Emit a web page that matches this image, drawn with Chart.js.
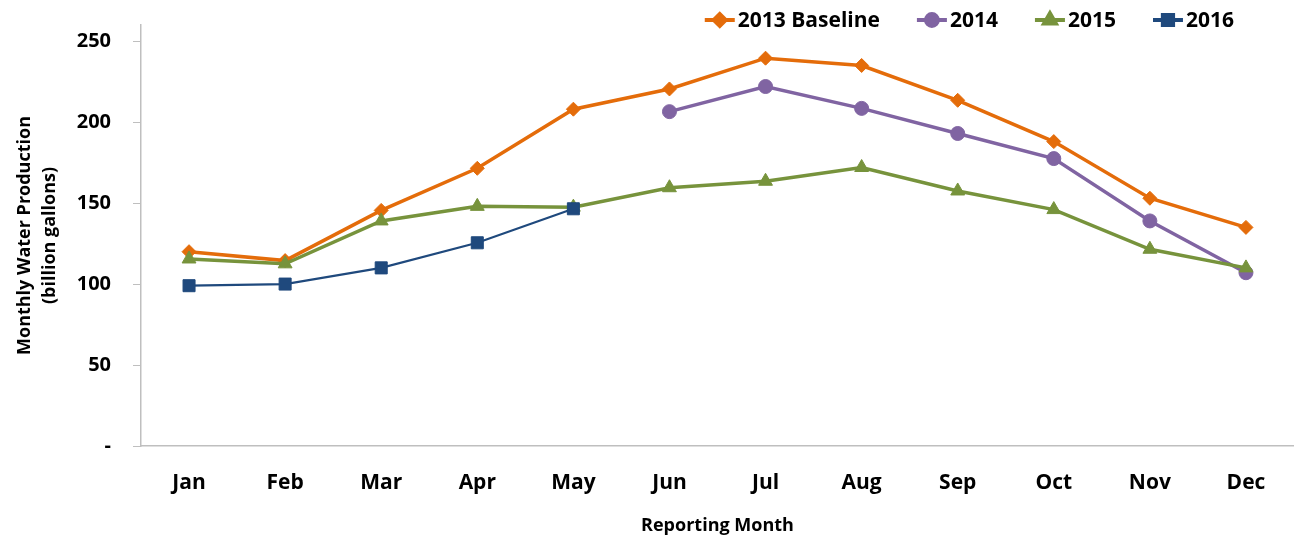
<!DOCTYPE html>
<html>
<head>
<meta charset="utf-8">
<script src="https://cdn.jsdelivr.net/npm/chart.js@4/dist/chart.umd.min.js"></script>
<style>
  html, body { margin: 0; padding: 0; background: #fff; overflow: hidden; }
  canvas { display: block; }
</style>
</head>
<body>
<canvas id="waterChart" width="1294" height="535"></canvas>
<script>
const months = ["Jan", "Feb", "Mar", "Apr", "May", "Jun", "Jul", "Aug", "Sep", "Oct", "Nov", "Dec"];
const baseline2013 = [120, 114.5, 145.5, 171.5, 208, 220.5, 239.5, 235, 213.5, 188, 153, 135];
const prod2014 = [null, null, null, null, null, 206.5, 222, 208.5, 193, 177.5, 139, 107];
const prod2015 = [115.5, 112.5, 139, 148, 147.5, 159.5, 163.5, 172, 157.5, 146, 121.5, 110];
const prod2016 = [99, 100, 110, 125.5, 146.5, null, null, null, null, null, null, null];
const yTicks = [0, 50, 100, 150, 200, 250];

const FONT = "'Open Sans', sans-serif";

const series = [
  { label: "2013 Baseline", data: baseline2013, color: "#E46C0A", style: "rectRot", radius: 7, width: 3.5 },
  { label: "2014", data: prod2014, color: "#8064A2", style: "circle", radius: 7, width: 3.5 },
  { label: "2015", data: prod2015, color: "#77933C", style: "triangle", radius: 8, width: 3.5 },
  { label: "2016", data: prod2016, color: "#1F497D", style: "rect", radius: 8.5, width: 2.2 }
];

// legend drawn by hand so it can sit up in the corner like the original
const cornerLegend = {
  id: "cornerLegend",
  afterDraw(chart) {
    const ctx = chart.ctx;
    ctx.save();
    ctx.font = "bold 21px " + FONT;
    ctx.textBaseline = "middle";
    const y = 20, lineLen = 30, gap = 3, itemGap = 37;
    let widths = series.map(s => lineLen + gap + ctx.measureText(s.label).width);
    let total = widths.reduce((a, b) => a + b, 0) + itemGap * (series.length - 1);
    let x = 1234 - total;
    series.forEach((s, i) => {
      ctx.strokeStyle = s.color;
      ctx.lineWidth = 4;
      ctx.beginPath();
      ctx.moveTo(x, y);
      ctx.lineTo(x + lineLen, y);
      ctx.stroke();
      ctx.fillStyle = s.color;
      Chart.helpers.drawPoint(ctx, { pointStyle: s.style, radius: s.radius * 0.85, rotation: 0, borderWidth: 1 }, x + lineLen / 2, y);
      ctx.fillStyle = "#000";
      ctx.fillText(s.label, x + lineLen + gap, y + 1);
      x += widths[i] + itemGap;
    });
    ctx.restore();
  }
};

new Chart(document.getElementById("waterChart"), {
  type: "line",
  data: {
    labels: months,
    datasets: series.map((s, i) => ({
      label: s.label,
      data: s.data,
      borderColor: s.color,
      backgroundColor: s.color,
      borderWidth: s.width,
      pointStyle: s.style,
      pointRadius: s.radius,
      pointHoverRadius: s.radius,
      pointBorderWidth: 1,
      tension: 0,
      spanGaps: false,
      order: series.length - i
    }))
  },
  options: {
    responsive: false,
    animation: false,
    layout: { autoPadding: false, padding: { top: 25, left: 0, right: 0, bottom: 0 } },
    plugins: {
      legend: { display: false },
      tooltip: { enabled: false }
    },
    scales: {
      x: {
        offset: true,
        grid: { display: false },
        border: { display: true, color: "#bfbfbf", width: 1.5 },
        ticks: { color: "#000", font: { family: FONT, size: 21, weight: "bold" }, padding: 16 },
        title: {
          display: true,
          text: "Reporting Month",
          color: "#000",
          font: { family: FONT, size: 18, weight: "bold", lineHeight: 1.0 },
          padding: { top: 0, bottom: 0 }
        },
        afterFit(scale) {
          scale.height = 89;
          scale.paddingLeft = 0;
          scale.paddingRight = 0;
        }
      },
      y: {
        min: 0,
        max: 260,
        grid: { drawOnChartArea: false, drawTicks: true, tickLength: 8, color: "#bfbfbf" },
        border: { display: true, color: "#bfbfbf", width: 1.5 },
        afterBuildTicks(scale) { scale.ticks = yTicks.map(v => ({ value: v })); },
        ticks: {
          color: "#000",
          font: { family: FONT, size: 20, weight: "bold" },
          padding: 22,
          callback: v => (v === 0 ? "-" : v)
        },
        title: {
          display: true,
          text: ["Monthly Water Production", "(billion gallons)"],
          color: "#000",
          font: { family: FONT, size: 18, weight: "bold", lineHeight: 1.4 },
          padding: { top: 12, bottom: 0 }
        },
        afterFit(scale) {
          scale.width = 141;
          scale.paddingTop = 0;
          scale.paddingBottom = 0;
        }
      }
    }
  },
  plugins: [cornerLegend]
});
</script>
</body>
</html>
